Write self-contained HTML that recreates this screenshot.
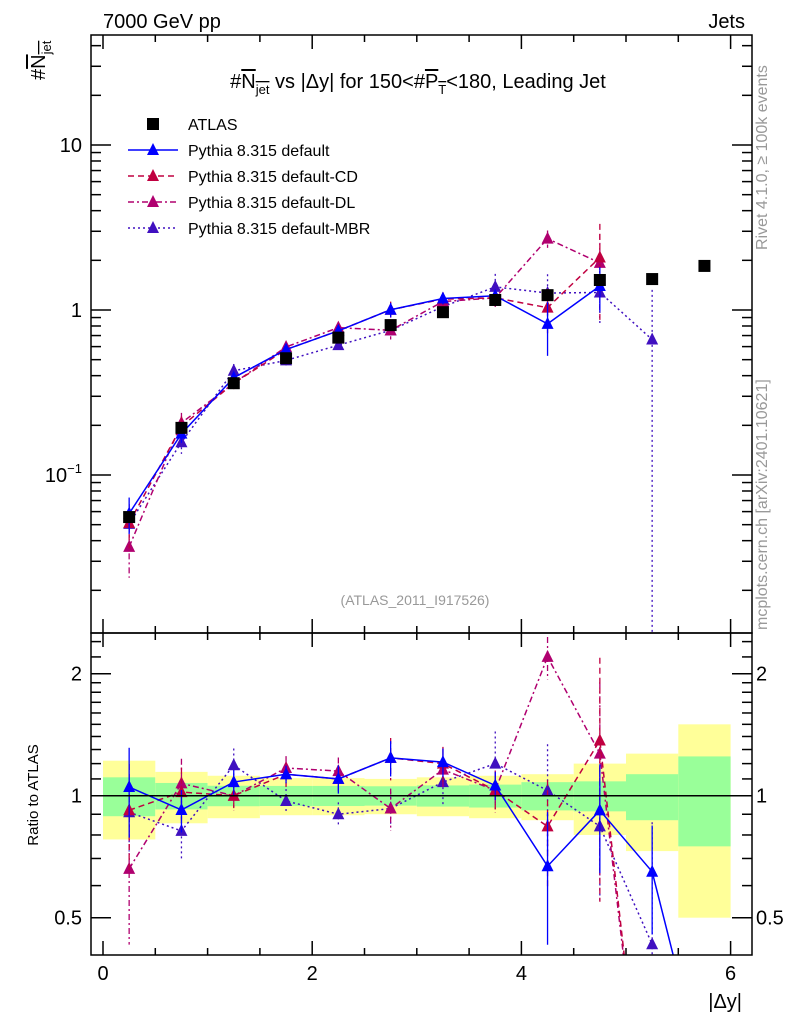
<!DOCTYPE html>
<html><head><meta charset="utf-8"><style>
body{margin:0;background:#fff;overflow:hidden}
svg{font-family:"Liberation Sans",sans-serif;display:block}
</style></head><body>
<svg id="c" width="786" height="1024" xmlns="http://www.w3.org/2000/svg">
<rect width="786" height="1024" fill="#fff"/>
<g id="bands"></g>
<g id="plot"></g>
<text x="103" y="28" font-size="20">7000 GeV pp</text>
<text x="745" y="28" font-size="20" text-anchor="end">Jets</text>
<text x="418" y="88" font-size="20" text-anchor="middle">#<tspan text-decoration="overline">N<tspan font-size="13" dy="6">jet</tspan></tspan><tspan dy="-6"> vs |Δy| for 150&lt;#</tspan><tspan text-decoration="overline">P<tspan font-size="13" dy="6">T</tspan></tspan><tspan dy="-6">&lt;180, Leading Jet</tspan></text>
<text transform="translate(45,80) rotate(-90)" font-size="20">#<tspan text-decoration="overline">N<tspan font-size="13" dy="6">jet</tspan></tspan></text>
<text transform="translate(38,795) rotate(-90)" font-size="15" text-anchor="middle">Ratio to ATLAS</text>
<text x="742" y="1008" font-size="20" text-anchor="end">|Δy|</text>
<text transform="translate(767,250) rotate(-90)" font-size="16" fill="#999">Rivet 4.1.0, ≥ 100k events</text>
<text transform="translate(767,630) rotate(-90)" font-size="16" fill="#999">mcplots.cern.ch [arXiv:2401.10621]</text>
<text x="415" y="605" font-size="14" fill="#999" text-anchor="middle">(ATLAS_2011_I917526)</text>
<g id="legend"></g>
</svg>
<script>
const xCenters=[0.25,0.75,1.25,1.75,2.25,2.75,3.25,3.75,4.25,4.75,5.25,5.75];
const atlas=[0.0556,0.193,0.36,0.51,0.68,0.81,0.97,1.15,1.23,1.52,1.54,1.85];
const statErr=[0.11,0.075,0.058,0.057,0.057,0.055,0.06,0.065,0.08,0.085,0.13,0.25];
const totErr=[0.22,0.145,0.12,0.105,0.105,0.1,0.11,0.12,0.13,0.2,0.27,0.5];
const mcDefault=[0.0584,0.178,0.389,0.576,0.748,1.004,1.174,1.219,0.824,1.398,1.0,0.37];
const mcCD=[0.0512,0.197,0.36,0.576,0.748,1.004,1.164,1.185,1.033,2.08,0.154];
const mcDL=[0.0367,0.207,0.36,0.597,0.782,0.753,1.125,1.185,2.706,1.93,0.154];
const mcMBR=[0.0506,0.158,0.428,0.495,0.612,0.753,1.048,1.38,1.267,1.277,0.662];
const errDefault=[0.25,0.12,0.07,0.05,0.08,0.1,0.08,0.08,0.36,0.3,0.3];
const errCD=[0.3,0.15,0.08,0.07,0.08,0.12,0.1,0.1,0.3,0.6,0.3];
const errDL=[0.35,0.15,0.08,0.07,0.08,0.12,0.1,0.12,0.12,0.5,0.3];
const errMBR=[0.2,0.15,0.1,0.07,0.07,0.1,0.12,0.2,0.3,0.35,1.0];

const NS="http://www.w3.org/2000/svg";
const L=91,R=752,T=35,M=633,B=955;
const X=v=>103+v*104.6;
const Y=v=>310-Math.log10(v)*165;
const YR=r=>795.7-Math.log2(r)*122;
const svg=document.getElementById('c');
const plot=document.getElementById('plot');
const bands=document.getElementById('bands');
function mk(t,a,p){const e=document.createElementNS(NS,t);for(const k in a)e.setAttribute(k,a[k]);(p||plot).appendChild(e);return e;}
const defs=mk('defs',{},svg);
const c1=mk('clipPath',{id:'cm'},defs);mk('rect',{x:L,y:T,width:R-L,height:M-T},c1);
const c2=mk('clipPath',{id:'cr'},defs);mk('rect',{x:L,y:M,width:R-L,height:B-M},c2);
const gMain=mk('g',{'clip-path':'url(#cm)'});
const gRat=mk('g',{'clip-path':'url(#cr)'});
xCenters.forEach((x,i)=>{
  const y=mk('rect',{x:X(x-0.25),y:YR(1+totErr[i]),width:X(0.5)-X(0),height:YR(1-totErr[i])-YR(1+totErr[i]),fill:'#ffff99'},bands);
  
  
  const g=mk('rect',{x:X(x-0.25),y:YR(1+statErr[i]),width:X(0.5)-X(0),height:YR(1-statErr[i])-YR(1+statErr[i]),fill:'#99ff99'},bands);
  
  
});
mk('line',{x1:L,x2:R,y1:YR(1),y2:YR(1),stroke:'#000','stroke-width':1.5});
mk('rect',{x:L,y:T,width:R-L,height:M-T,fill:'none',stroke:'#000','stroke-width':1.5});
mk('rect',{x:L,y:M,width:R-L,height:B-M,fill:'none',stroke:'#000','stroke-width':1.5});
for(let v=0;v<=6.01;v+=0.5){const maj=Math.abs(v-Math.round(v/2)*2)<0.01;const len=maj?14:7;
  [M,B].forEach(b=>mk('line',{x1:X(v),x2:X(v),y1:b,y2:b-len,stroke:'#000','stroke-width':1.5}));
  [T,M].forEach(t=>mk('line',{x1:X(v),x2:X(v),y1:t,y2:t+len,stroke:'#000','stroke-width':1.5}));
  if(maj){const t=mk('text',{x:X(v),y:980,'font-size':20,'text-anchor':'middle'});t.textContent=Math.round(v);
  
  }}
for(let d=-2;d<=1;d++)for(let m=1;m<10;m++){const v=m*Math.pow(10,d);const y=Y(v);if(y<T||y>M)continue;const len=m==1?20:10;
  mk('line',{x1:L,x2:L+len,y1:y,y2:y,stroke:'#000','stroke-width':1.5});mk('line',{x1:R,x2:R-len,y1:y,y2:y,stroke:'#000','stroke-width':1.5});}
[[10,'10'],[1,'1']].forEach(([v,s])=>{const t=mk('text',{x:82,y:Y(v)+7,'font-size':20,'text-anchor':'end'});t.textContent=s;
  
  });
{const t=mk('text',{x:82,y:Y(0.1)+7,'font-size':20,'text-anchor':'end'});t.innerHTML='10<tspan font-size="13" dy="-9">−1</tspan>';
 
 }
[0.4,0.5,0.6,0.7,0.8,0.9,1,1.1,1.2,1.3,1.4,1.5,1.6,1.7,1.8,1.9,2,2.2,2.4].forEach(v=>{const y=YR(v);if(y<M||y>B)return;const maj=(v==0.5||v==1||v==2);const len=maj?20:10;
  mk('line',{x1:L,x2:L+len,y1:y,y2:y,stroke:'#000','stroke-width':1.5});mk('line',{x1:R,x2:R-len,y1:y,y2:y,stroke:'#000','stroke-width':1.5});
  if(maj){[[82,'end'],[756,'start']].forEach(([x,a])=>{const t=mk('text',{x:x,y:y+7,'font-size':20,'text-anchor':a});t.textContent=String(v);
    
    });}});
function tri(g,x,y,col){return mk('polygon',{points:`${x},${y-7} ${x-6},${y+5} ${x+6},${y+5}`,fill:col},g);}
function series(vals,errs,col,dash,name,nMain){
  const pts=[];const rpts=[];
  vals.forEach((v,i)=>{
    const x=X(xCenters[i]);const r=v/atlas[i];
    if(i<nMain){const y=Y(v);pts.push(x+','+y);
      mk('line',{x1:x,x2:x,y1:Y(v*(1+errs[i])),y2:Y(Math.max(v*(1-errs[i]),1e-4)),stroke:col,'stroke-width':1.3,'stroke-dasharray':dash},gMain);
      const m=tri(gMain,x,y,col);
      
      }
    const yr=YR(r);rpts.push(x+','+yr);
    mk('line',{x1:x,x2:x,y1:YR(r*(1+errs[i])),y2:YR(Math.max(r*(1-errs[i]),0.01)),stroke:col,'stroke-width':1.3,'stroke-dasharray':dash},gRat);
    const m2=tri(gRat,x,yr,col);
    
    
  });
  const l=mk('polyline',{points:pts.join(' '),fill:'none',stroke:col,'stroke-width':1.5,'stroke-dasharray':dash},gMain);
  
  
  const l2=mk('polyline',{points:rpts.join(' '),fill:'none',stroke:col,'stroke-width':1.5,'stroke-dasharray':dash},gRat);
  
  
}
series(mcMBR,errMBR,'#4010c0','2,3','pythia-mbr',11);
series(mcDL,errDL,'#b0006f','6,3,2,3','pythia-dl',10);
series(mcCD,errCD,'#c00040','6,4','pythia-cd',10);
series(mcDefault,errDefault,'#0000ff','','pythia-default',10);
atlas.forEach((v,i)=>{const s=mk('rect',{x:X(xCenters[i])-6,y:Y(v)-6,width:12,height:12,fill:'#000'},gMain);
  
  });
const lg=document.getElementById('legend');
const items=[['ATLAS',null,''],['Pythia 8.315 default','#0000ff',''],['Pythia 8.315 default-CD','#c00040','6,4'],['Pythia 8.315 default-DL','#b0006f','6,3,2,3'],['Pythia 8.315 default-MBR','#4010c0','2,3']];
items.forEach((it,i)=>{const y=124+i*26;const g=mk('g',{},lg);
  
  
  if(!it[1])mk('rect',{x:147,y:y-6,width:12,height:12,fill:'#000'},g);
  else{mk('line',{x1:128,x2:178,y1:y,y2:y,stroke:it[1],'stroke-width':1.5,'stroke-dasharray':it[2]},g);tri(g,153,y,it[1]);}
  const t=mk('text',{x:188,y:y+6,'font-size':16},g);t.textContent=it[0];});
</script>
</body></html>
